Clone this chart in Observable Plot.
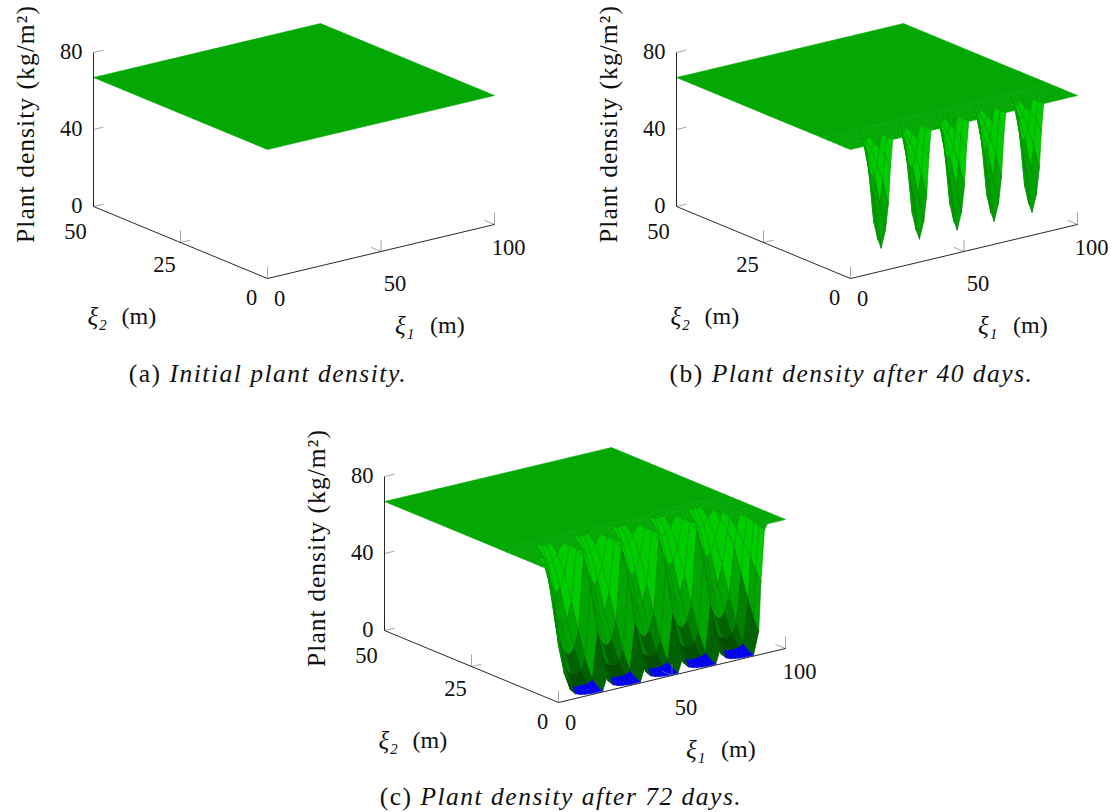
<!DOCTYPE html>
<html><head><meta charset="utf-8">
<script src="https://cdn.jsdelivr.net/npm/d3@7"></script>
<script src="https://cdn.jsdelivr.net/npm/@observablehq/plot@0.6"></script>
<style>
html,body{margin:0;padding:0;background:#fff}
#fig{position:relative;width:1115px;height:812px;overflow:hidden;font-family:"Liberation Serif",serif;color:#111}
.panel{position:absolute;width:540px;height:345px}
.panel svg{max-width:none}
.cap{position:absolute;font-size:25.5px;letter-spacing:1.5px;white-space:nowrap;transform:translate(-50%,-50%)}
.cap i{font-style:italic}
</style></head><body><div id="fig"></div>
<script>
// ---- values ----
const plateau = 67;                     // kg/m2
const xTicks = [0, 50, 100];
const yTicks = [0, 25, 50];
const zTicks = [0, 40, 80];
const captions = [["(a) ", "Initial plant density."], ["(b) ", "Plant density after 40 days."], ["(c) ", "Plant density after 72 days."]];

// panel (b): z per row of y, per column of offset from a pit centre
const pitsB = [13.5, 30.4, 47, 63.3, 80];
const yRowsB = [0, 1.6, 3.2, 4.8, 6.4, 8.1];
const dxB = [-8.3, -6.9, -4.7, -3.2, -1.5, 0, 1.9, 3.2, 4.1, 5.1, 6.6];
const zB = [
  [67, 67, 48, 26, 17, 12, 20.6, 34, 53, 67, 67],
  [67, 67, 66, 54, 40, 31, 33, 44, 58, 67, 67],
  [67, 67, 67, 67, 60, 48, 46, 52, 60, 67, 67],
  [67, 67, 67, 67, 67, 62, 56, 58, 62, 67, 67],
  [67, 67, 67, 67, 67, 67, 62, 62, 64, 67, 67],
  [67, 67, 67, 67, 67, 67, 67, 67, 67, 67, 67]
];
const leftXB = [0];
const leftZB = [[67], [67], [67], [67], [67], [67]];
const rightXB = [100];
const rightZB = [[67], [67], [67], [67], [67], [67]];

// panel (c)
const pitsC = [13.5, 30.1, 46.7, 63.3, 79.9];
const yRowsC = [0, 1.5, 3, 5, 7, 9, 11, 13, 15, 17];
const dxC = [-8.3, -6, -4, -2, 0, 2, 4, 6];
const zC = [
  [9, 2.4, 1.5, 1, 0.7, 0.5, 0.5, 0.5],
  [16, 3.5, 1.8, 1.6, 1.4, 1.2, 1.4, 1.8],
  [28, 10, 3.4, 2.6, 2.4, 2.4, 2.6, 4],
  [50, 26, 14, 9, 7, 6.5, 8, 13],
  [64, 54, 32, 22, 17, 15, 18, 26],
  [67, 66, 54, 42, 33, 28, 31, 40],
  [67, 67, 65, 58, 50, 44, 46, 53],
  [67, 67, 67, 66, 62, 58, 59, 62],
  [67, 67, 67, 67, 67, 66, 66, 66],
  [67, 67, 67, 67, 67, 67, 67, 67]
];
const leftXC = [0, 2.6];
const leftZC = [[29, 14], [52, 30], [67, 50], [67, 67], [67, 67], [67, 67], [67, 67], [67, 67], [67, 67], [67, 67]];
const rightXC = [88.2, 89.2, 90.7, 92, 100];
const rightZC = [
  [12, 38, 64, 67, 67], [18, 42, 65, 67, 67], [26, 48, 66, 67, 67], [38, 54, 67, 67, 67], [50, 60, 67, 67, 67],
  [58, 64, 67, 67, 67], [63, 66, 67, 67, 67], [66, 67, 67, 67, 67], [67, 67, 67, 67, 67], [67, 67, 67, 67, 67]
];

// facet colours by mean height
const levels = [2.6, 6, 13, 22, 40, 64];
const fills = ["#0000eb", "#005000", "#006400", "#008200", "#00a500", "#00cd00", "#04a804"];
const edges = ["#0000eb", "#003c00", "#004c00", "#006200", "#007c00", "#009800", "#04a804"];

// ---- oblique view of the (ξ1, ξ2, z) box ----
const sx = (x, y) => 2.27 * x - 3.48 * y;
const sy = (x, y, z) => 0.54 * x + 1.44 * y + 1.925 * z;
const P = (x, y, z) => ({sx: sx(x, y), sy: sy(x, y, z)});

function facets(s) {
  const out = [];
  const poly = (pts) => {
    const m = d3.mean(pts, p => p[2]);
    const k = d3.bisectRight(levels, m);
    const id = out.length ? out[out.length - 1].cell + 1 : 0;
    for (const p of [...pts, pts[0]]) out.push({...P(...p), cell: id, fill: fills[k], edge: edges[k]});
  };
  const yTop = s ? s.yRows[s.yRows.length - 1] : 0;
  poly([[0, 50, plateau], [100, 50, plateau], [100, yTop, plateau], [0, yTop, plateau]]);
  if (s) {
    const xs = [...s.leftX, ...s.pits.flatMap(c => s.dx.map(d => c + d)), ...s.rightX];
    const zs = s.z.map((row, r) => [...s.leftZ[r], ...s.pits.flatMap(() => row), ...s.rightZ[r]]);
    for (let j = s.yRows.length - 2; j >= 0; --j)
      for (let i = xs.length - 2; i >= 0; --i)
        poly([[xs[i], s.yRows[j], zs[j][i]], [xs[i + 1], s.yRows[j], zs[j][i + 1]],
              [xs[i + 1], s.yRows[j + 1], zs[j + 1][i + 1]], [xs[i], s.yRows[j + 1], zs[j + 1][i]]]);
  }
  return out;
}

function panel(s) {
  const axisLines = [
    [P(0, 0, 0), P(100, 0, 0)], [P(0, 0, 0), P(0, 50, 0)], [P(0, 50, 0), P(0, 50, 80)]
  ].map(([a, b]) => ({x1: a.sx, y1: a.sy, x2: b.sx, y2: b.sy}));
  const tk = [];
  const add = (a, b) => tk.push({x1: a.sx, y1: a.sy, x2: b.sx, y2: b.sy});
  for (const t of xTicks) { add(P(t, 0, 0), P(t, 0, 6.2)); if (t) add(P(t, 0, 0), P(t, 2.9, 0)); }
  for (const t of yTicks) { if (t) add(P(0, t, 0), P(0, t, 6.2)); if (t === 25) add(P(0, t, 0), P(4.4, t, 0)); }
  for (const t of zTicks) add(P(0, 50, t), P(4.4, 50, t));
  const tx = (arr, o) => Plot.text(arr, {x: "sx", y: "sy", text: "t", fontSize: 22.5, fontFamily: "Liberation Serif", fill: "#111", ...o});
  const svg = Plot.plot({
    width: 540, height: 345, margin: 0,
    x: {domain: [-267, 273], range: [0, 540], axis: null},
    y: {domain: [278, -67], range: [0, 345], axis: null},
    color: {type: "identity"},
    marks: [
      Plot.line(facets(s), {x: "sx", y: "sy", z: "cell", fill: "fill", stroke: "edge", strokeWidth: 0.6, curve: "linear"}),
      Plot.link(tk, {x1: "x1", y1: "y1", x2: "x2", y2: "y2", stroke: "#808080", strokeWidth: 0.7}),
      Plot.link(axisLines, {x1: "x1", y1: "y1", x2: "x2", y2: "y2", stroke: "#111", strokeWidth: 0.9}),
      tx(xTicks.filter(t => t === 100).map(t => ({...P(t, 0, 0), t: String(t)})), {dx: 14, dy: 23}),
      tx(xTicks.filter(t => t === 50).map(t => ({...P(t, 0, 0), t: String(t)})), {dx: 14, dy: 32}),
      tx(xTicks.filter(t => t === 0).map(t => ({...P(t, 0, 0), t: String(t)})), {dx: 12, dy: 20}),
      tx(yTicks.filter(t => t === 0).map(t => ({...P(0, t, 0), t: String(t)})), {dx: -16, dy: 19}),
      tx(yTicks.filter(t => t === 25).map(t => ({...P(0, t, 0), t: String(t)})), {dx: -16, dy: 22}),
      tx(yTicks.filter(t => t === 50).map(t => ({...P(0, t, 0), t: String(t)})), {dx: -18, dy: 25}),
      tx(zTicks.map(t => ({...P(0, 50, t), t: String(t)})), {textAnchor: "end", dx: -11, dy: -1}),
      tx([{...P(0, 50, 40), t: "Plant density (kg/m²)"}], {rotate: -90, dx: -68, dy: -5.5, fontSize: 25.5}),
      tx([{...P(0, 25, 0), t: "ξ₂"}], {fontStyle: "italic", textAnchor: "start", dx: -93, dy: 74, fontSize: 25}),
      tx([{...P(0, 25, 0), t: "(m)"}], {textAnchor: "start", dx: -59, dy: 74, fontSize: 24}),
      tx([{...P(50, 0, 0), t: "ξ₁"}], {fontStyle: "italic", textAnchor: "start", dx: 14, dy: 74, fontSize: 25}),
      tx([{...P(50, 0, 0), t: "(m)"}], {textAnchor: "start", dx: 49, dy: 74, fontSize: 24})
    ]
  });
  d3.select(svg).selectAll("text").filter(function () { return /Plant/.test(this.textContent); }).style("letter-spacing", "1.05px");
  return svg;
}

const fig = document.getElementById("fig");
const surfB = {pits: pitsB, yRows: yRowsB, dx: dxB, z: zB, leftX: leftXB, leftZ: leftZB, rightX: rightXB, rightZ: rightZB};
const surfC = {pits: pitsC, yRows: yRowsC, dx: dxC, z: zC, leftX: leftXC, leftZ: leftZC, rightX: rightXC, rightZ: rightZC};
[[null, 0, 0, 268, 374], [surfB, 583, 0, 851.5, 374], [surfC, 291, 424, 561, 797]].forEach(([s, l, t, cx, cy], i) => {
  const d = document.createElement("div");
  d.className = "panel"; d.style.left = l + "px"; d.style.top = t + "px";
  d.appendChild(panel(s));
  fig.appendChild(d);
  const c = document.createElement("div");
  c.className = "cap"; c.style.left = cx + "px"; c.style.top = cy + "px";
  c.innerHTML = captions[i][0] + "<i>" + captions[i][1] + "</i>";
  fig.appendChild(c);
});
</script></body></html>
